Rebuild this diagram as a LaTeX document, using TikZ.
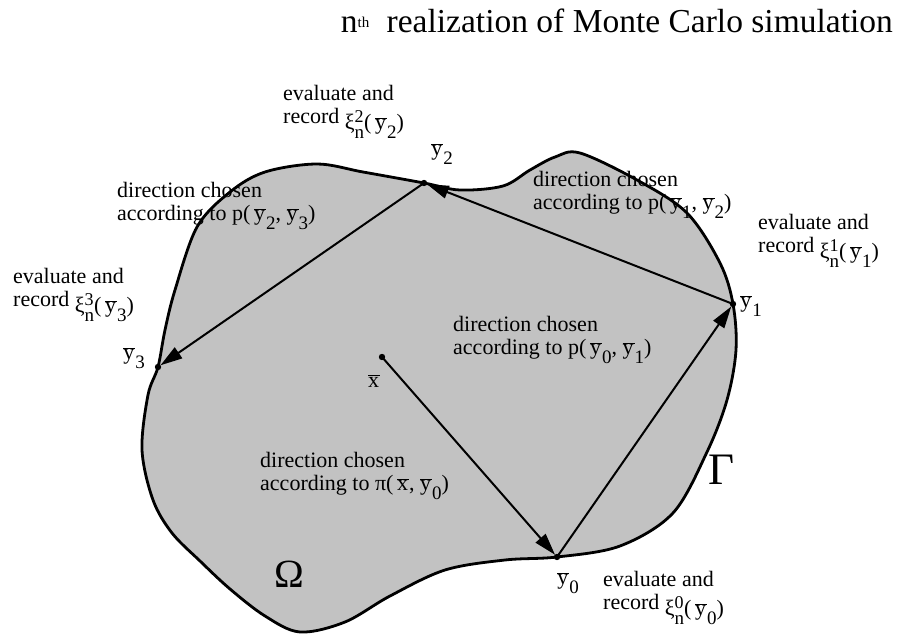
\documentclass[tikz,border=0pt]{standalone}
\usepackage{fontspec}
\setmainfont{Liberation Serif}
\usetikzlibrary{arrows.meta}
\definecolor{regiongray}{RGB}{194,194,194}
\newcommand{\drawarrow}{\draw[-{Triangle[length=22pt,width=13pt]}, line width=2pt, shorten >=3pt]}
\newcommand{\lowsub}[1]{\raisebox{-9pt}{\fontsize{19}{19}\selectfont #1}}
\newcommand{\yb}[1]{$\overline{\mbox{y\kern1pt}}$\lowsub{#1}}
\newcommand{\xb}{$\overline{\mbox{x\kern1pt}}$}
\newcommand{\xin}[2]{\raisebox{-6pt}{ξ\makebox[0pt][l]{\raisebox{7pt}{\fontsize{18}{18}\selectfont #1}}\lowsub{n}(\,\yb{#2})}}

\begin{document}
\begin{tikzpicture}[x=1pt, y=-1pt,
    lbl/.style={inner sep=0pt, align=left, anchor=north west,
        font=\fontsize{22}{23}\selectfont},
    ptlbl/.style={inner sep=0pt, font=\fontsize{22}{23}\selectfont}]
    \useasboundingbox (0,0) rectangle (898,634);

    % Draw region
    \filldraw[fill=regiongray, line width=2.8pt] plot[smooth cycle, tension=0.55] coordinates {
        (424,183) (460,190) (503,186) (530,170) (555,157) (580,153)
        (637,180) (687,213) (720,263) (733,304) (736,350) (727,400)
        (707,452) (673,513) (620,546) (557,557) (505,560) (445,570)
        (390,596) (345,622) (300,632) (265,616) (230,589) (200,561)
        (172,533) (153,500) (142,450) (148,395) (158,367) (165,330)
        (175,290) (197,227) (230,192) (265,172) (317,164) (363,172)};

    % Points
    \coordinate (x) at (382,357);
    \coordinate (y0) at (557,557);
    \coordinate (y1) at (733,304);
    \coordinate (y2) at (424,183);
    \coordinate (y3) at (158,367);
    \foreach \p in {x,y0,y1,y2,y3} {
        \fill (\p) circle (3.2pt);
    }

    % Draw walk
    \drawarrow (x) -- (y0);
    \drawarrow (y0) -- (y1);
    \drawarrow (y1) -- (y2);
    \drawarrow (y2) -- (y3);

    \node[ptlbl] (lx) at (374,381) {\xb};
    \node[ptlbl] (ly0) at (568,583) {\yb{0}};
    \node[ptlbl] (ly1) at (751,306) {\yb{1}};
    \node[ptlbl] (ly2) at (442,154) {\yb{2}};
    \node[ptlbl] (ly3) at (134,358) {\yb{3}};

    \node[inner sep=0pt, font=\fontsize{40}{40}\selectfont] (omega) at (289,574) {Ω};
    \node[inner sep=0pt, font=\fontsize{45}{45}\selectfont] (gamma) at (722,470) {Γ};

    % Labels
    \node[lbl] (dirx) at (260,452) {direction chosen\\according to π(\,\xb, \yb{0})};
    \node[lbl] (dirzero) at (453,316) {direction chosen\\according to p(\,\yb{0}, \yb{1})};
    \node[lbl] (dirone) at (533,171) {direction chosen\\according to p(\,\yb{1}, \yb{2})};
    \node[lbl] (dirtwo) at (117,182) {direction chosen\\according to p(\,\yb{2}, \yb{3})};

    \node[lbl] (evalzero) at (603,571) {evaluate and\\record \xin{0}{0}};
    \node[lbl] (evalone) at (758,214) {evaluate and\\record \xin{1}{1}};
    \node[lbl] (evaltwo) at (283,85) {evaluate and\\record \xin{2}{2}};
    \node[lbl] (evalthree) at (13,268) {evaluate and\\record \xin{3}{3}};

    \node[inner sep=0pt, anchor=base east, font=\fontsize{33.5}{34}\selectfont] (title) at (893,33)
        {n\raisebox{5pt}{\fontsize{15}{15}\selectfont th}\hspace{9pt} realization of Monte Carlo simulation};
\end{tikzpicture}
\end{document}
